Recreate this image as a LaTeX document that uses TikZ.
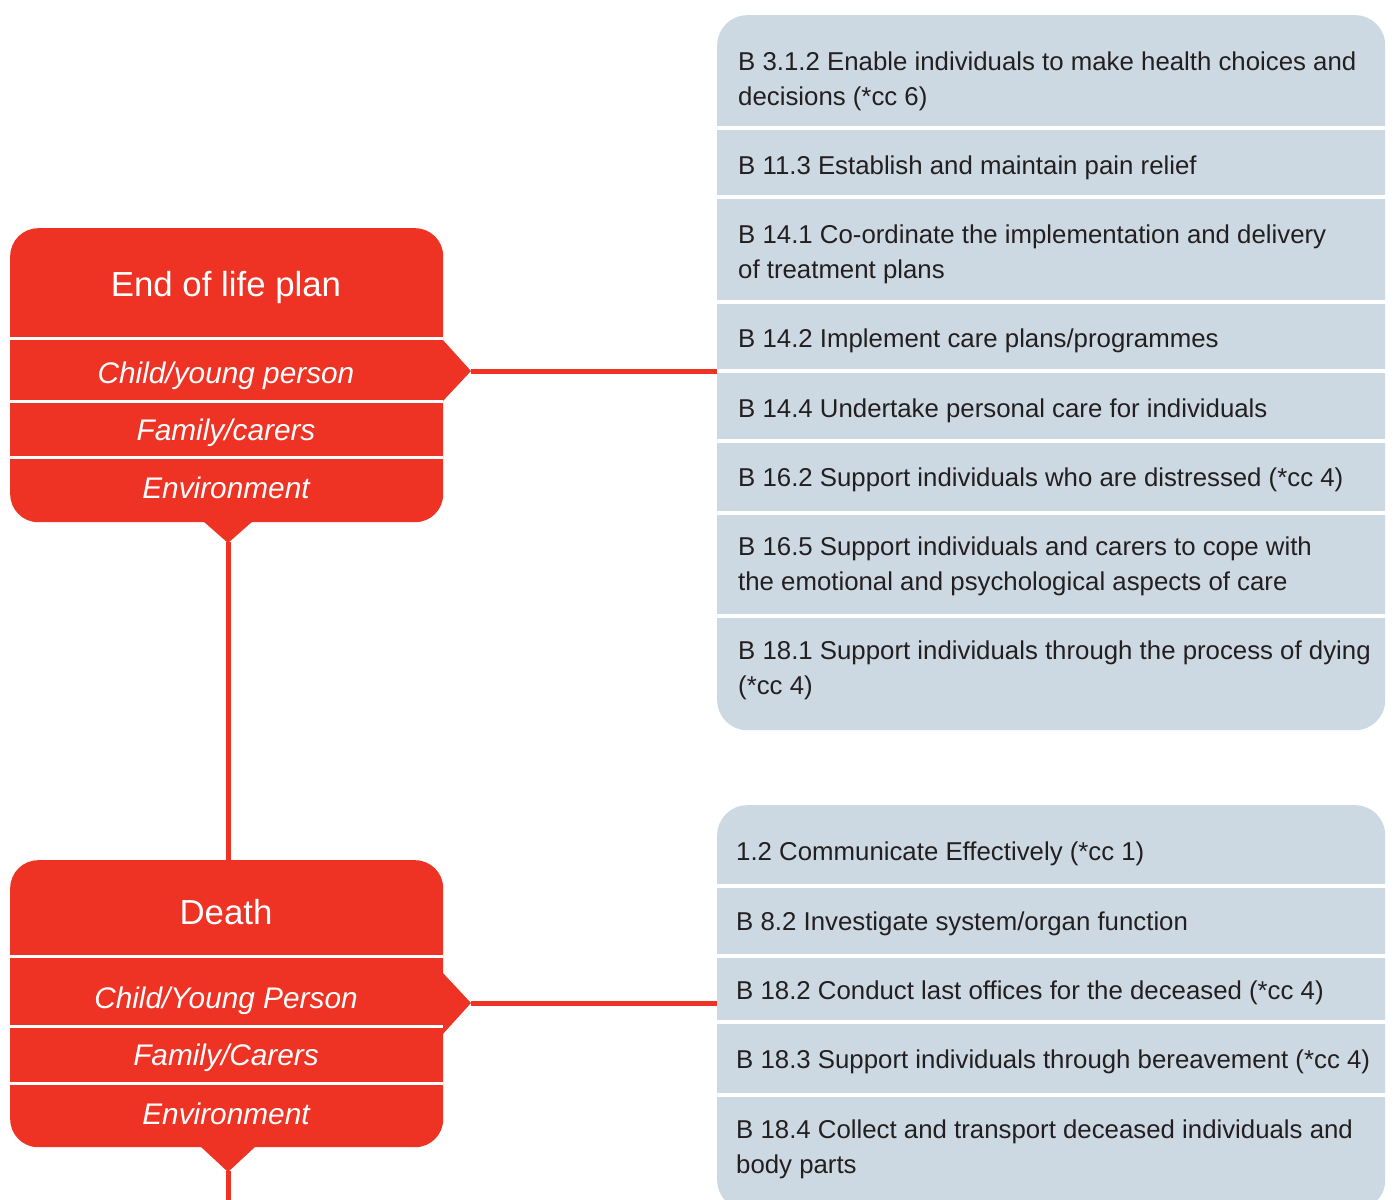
\documentclass[tikz,border=0pt]{standalone}
\usepackage{fontspec}
\setmainfont{Liberation Sans}
\definecolor{planred}{RGB}{238,50,36}
\definecolor{panelgrey}{RGB}{205,217,226}
\definecolor{inktext}{RGB}{35,31,32}
\tikzset{
  redbox/.style={fill=planred, rounded corners=28pt, inner sep=0pt, anchor=north west, minimum width=433pt},
  redtitle/.style={text=white, font=\fontsize{34.8}{40}\selectfont, inner sep=0pt},
  redrow/.style={text=white, font=\fontsize{29.8}{34}\itshape, inner sep=0pt},
  rowsep/.style={draw=white, line width=3pt},
  panel/.style={fill=panelgrey, rounded corners=30pt, inner sep=0pt, anchor=north west, minimum width=668pt},
  panelsep/.style={draw=white, line width=4pt},
  item/.style={text=inktext, font=\fontsize{25.8}{35}\selectfont, anchor=west, align=left, inner sep=0pt},
  link/.style={draw=planred, line width=5pt},
  notch/.style={fill=planred}
}
\begin{document}
\begin{tikzpicture}[x=1pt,y=-1pt]
\useasboundingbox (0,0) rectangle (1394,1199);
\clip (0,0) rectangle (1394,1199);

% ---------- upper red card: End of life plan ----------
\node[redbox, minimum height=294pt] (cardA) at (10,228) {};
\fill[notch] (442,339) -- (471,371) -- (442,402) -- cycle;
\fill[notch] (203,521) -- (228,543) -- (253,521) -- cycle;
\coordinate (cardAright) at (471,371);
\coordinate (cardAbottom) at (228,542);
\draw[rowsep] (10,338) -- (443,338);
\draw[rowsep] (10,401) -- (443,401);
\draw[rowsep] (10,457) -- (443,457);
\node[redtitle] (eolTitle) at (226,287) {End of life plan};
\node[redrow] (eolChild) at (226,376) {Child/young person};
\node[redrow] (eolFamily) at (226,433) {Family/carers};
\node[redrow] (eolEnv) at (226,488) {Environment};

% ---------- lower red card: Death ----------
\node[redbox, minimum height=287pt] (cardB) at (10,860) {};
\fill[notch] (442,972) -- (471,1003) -- (442,1035) -- cycle;
\fill[notch] (200,1146) -- (228,1172) -- (256,1146) -- cycle;
\coordinate (cardBright) at (471,1003);
\coordinate (cardBbottom) at (228,1171);
\coordinate (cardBtail) at (228,1205);
\draw[rowsep] (10,956) -- (443,956);
\draw[rowsep] (10,1026) -- (443,1026);
\draw[rowsep] (10,1083) -- (443,1083);
\node[redtitle] (deathTitle) at (226,912) {Death};
\node[redrow] (deathChild) at (226,1001) {Child/Young Person};
\node[redrow] (deathFamily) at (226,1058) {Family/Carers};
\node[redrow] (deathEnv) at (226,1114) {Environment};

% ---------- upper panel of competences ----------
\node[panel, minimum height=715pt] (panelA) at (717,15) {};
\foreach \y in {128,197,302,371,441,513,616}
  \draw[panelsep] (717,\y) -- (1386,\y);
\node[item] (a1) at (738,81) {B 3.1.2 Enable individuals to make health choices and\\decisions (*cc 6)};
\node[item] (a2) at (738,168) {B 11.3 Establish and maintain pain relief};
\node[item] (a3) at (738,254) {B 14.1 Co-ordinate the implementation and delivery\\of treatment plans};
\node[item] (a4) at (738,341) {B 14.2 Implement care plans/programmes};
\node[item] (a5) at (738,411) {B 14.4 Undertake personal care for individuals};
\node[item] (a6) at (738,480) {B 16.2 Support individuals who are distressed (*cc 4)};
\node[item] (a7) at (738,566) {B 16.5 Support individuals and carers to cope with\\the emotional and psychological aspects of care};
\node[item] (a8) at (738,670) {B 18.1 Support individuals through the process of dying\\(*cc 4)};

% ---------- lower panel of competences ----------
\node[panel, minimum height=405pt] (panelB) at (717,805) {};
\foreach \y in {886,956,1022,1095}
  \draw[panelsep] (717,\y) -- (1386,\y);
\node[item] (b1) at (736,854) {1.2 Communicate Effectively (*cc 1)};
\node[item] (b2) at (736,924) {B 8.2 Investigate system/organ function};
\node[item] (b3) at (736,993) {B 18.2 Conduct last offices for the deceased (*cc 4)};
\node[item] (b4) at (736,1062) {B 18.3 Support individuals through bereavement (*cc 4)};
\node[item] (b5) at (736,1149) {B 18.4 Collect and transport deceased individuals and\\body parts};

% ---------- connectors ----------
\draw[link] (cardAright) -- (panelA.west |- cardAright);
\draw[link] (cardBright) -- (panelB.west |- cardBright);
\draw[link] (cardAbottom) -- (cardB.north -| cardAbottom);
\draw[link] (cardBbottom) -- (cardBtail);
\end{tikzpicture}
\end{document}
